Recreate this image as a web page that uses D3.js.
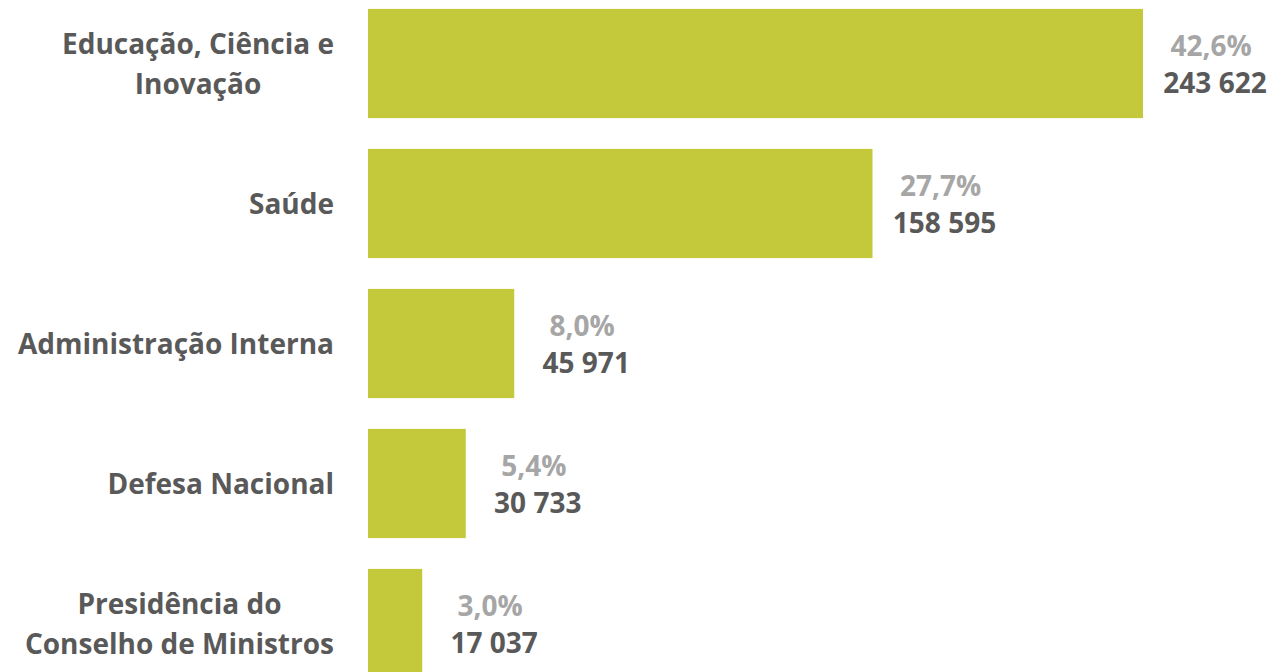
<!DOCTYPE html>
<html>
<head>
<meta charset="utf-8">
<script src="https://cdn.jsdelivr.net/npm/d3@7"></script>
<style>
  body { margin: 0; background: #fff; }
  text { font-family: "Open Sans", sans-serif; font-weight: 700; }
</style>
</head>
<body>
<script>
var categories = [
  ["Educação, Ciência e", "Inovação"],
  ["Saúde"],
  ["Administração Interna"],
  ["Defesa Nacional"],
  ["Presidência do", "Conselho de Ministros"]
];
var values = [243622, 158595, 45971, 30733, 17037];
var shares = ["42,6%", "27,7%", "8,0%", "5,4%", "3,0%"];
var valueLabels = ["243 622", "158 595", "45 971", "30 733", "17 037"];

var w = 1274, h = 672;
var x0 = 368, labelRight = 334;
var fs = 28;

var svg = d3.select('body').append('svg')
  .attr('width', w)
  .attr('height', h);

var x = d3.scaleLinear()
  .domain([0, 243622])
  .range([x0, 1143]);

var y = d3.scaleBand()
  .domain(d3.range(values.length))
  .range([-6.5, 693.5])
  .paddingInner(0.22)
  .paddingOuter(0.11);

svg.selectAll('rect.bar')
  .data(values)
  .enter()
  .append('rect')
  .attr('class', 'bar')
  .attr('x', x(0))
  .attr('y', function(d, i){ return y(i); })
  .attr('width', function(d){ return x(d) - x(0); })
  .attr('height', y.bandwidth())
  .attr('fill', '#c3c93a');

// category labels, block right-aligned, lines centered in block
categories.forEach(function(lines, i){
  var cy = y(i) + y.bandwidth() / 2;
  var g = svg.append('g');
  var texts = lines.map(function(l, j){
    return g.append('text')
      .attr('fill', '#595959')
      .attr('font-size', fs)
      .attr('text-anchor', 'middle')
      .attr('y', cy + 10 + (j - (lines.length - 1) / 2) * 40)
      .text(l);
  });
  var maxw = d3.max(texts, function(t){ return t.node().getComputedTextLength(); });
  texts.forEach(function(t){ t.attr('x', labelRight - maxw / 2); });
});

// value labels
svg.selectAll('text.share')
  .data(shares)
  .enter()
  .append('text')
  .attr('class', 'share')
  .attr('fill', '#a6a6a6')
  .attr('font-size', fs)
  .attr('text-anchor', 'middle')
  .attr('x', function(d, i){ return x(values[i]) + 68; })
  .attr('y', function(d, i){ return y(i) + y.bandwidth() / 2 - 8; })
  .text(function(d){ return d; });

svg.selectAll('text.val')
  .data(valueLabels)
  .enter()
  .append('text')
  .attr('class', 'val')
  .attr('fill', '#595959')
  .attr('font-size', fs)
  .attr('text-anchor', 'middle')
  .attr('x', function(d, i){ return x(values[i]) + 72; })
  .attr('y', function(d, i){ return y(i) + y.bandwidth() / 2 + 29; })
  .text(function(d){ return d; });
</script>
</body>
</html>
